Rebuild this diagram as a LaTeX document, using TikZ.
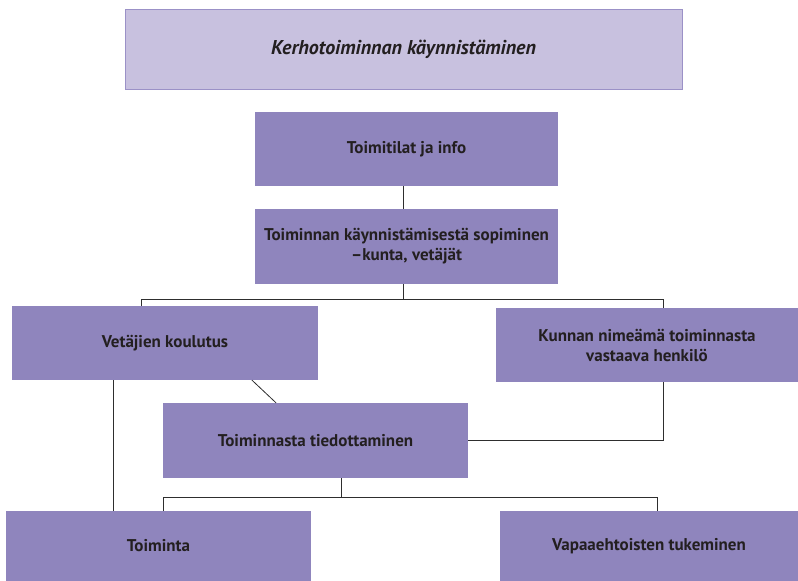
\documentclass[tikz,border=0pt]{standalone}
\usepackage{fontspec}
\setmainfont{PT Sans}
\usepackage{xcolor}
\usepackage{tikz}

\definecolor{boxfill}{HTML}{8F85BD}
\definecolor{titlefill}{HTML}{C8C1DF}
\definecolor{titleline}{HTML}{9B91C7}
\definecolor{textcol}{HTML}{231F20}
\definecolor{linecol}{HTML}{2E2E2E}

\begin{document}
\begin{tikzpicture}[x=1pt, y=-1pt,
  box/.style={fill=boxfill, text=textcol, font=\fontsize{17}{20}\selectfont\bfseries,
    align=center, inner sep=0pt},
  link/.style={draw=linecol, line width=0.8pt}]

\useasboundingbox (0,0) rectangle (798,581);

% Titolo
\node[fill=titlefill, draw=titleline, line width=1pt, minimum width=557pt, minimum height=80pt,
  text=textcol, font=\fontsize{20}{24}\selectfont\bfseries\itshape] (title) at (403.5,49)
  {Kerhotoiminnan käynnistäminen};

% Blocchi centrali
\node[box, minimum width=303pt, minimum height=74pt] (info) at (406.5,149) {Toimitilat ja info};
\node[box, minimum width=303pt, minimum height=75pt] (sopim) at (406.5,246.5)
  {Toiminnan käynnistämisestä sopiminen\\–kunta, vetäjät};

% Blocchi laterali
\node[box, minimum width=306pt, minimum height=74pt] (koul) at (165,343) {Vetäjien koulutus};
\node[box, minimum width=302pt, minimum height=74pt] (kunta) at (647,345)
  {Kunnan nimeämä toiminnasta\\vastaava henkilö};
\node[box, minimum width=305pt, minimum height=75pt] (tied) at (315.5,440.5) {Toiminnasta tiedottaminen};

% Blocchi in basso
\node[box, minimum width=305pt, minimum height=70pt] (toim) at (158.5,546) {Toiminta};
\node[box, minimum width=298pt, minimum height=70pt] (vapaa) at (649,546) {Vapaaehtoisten tukeminen};

% Punti di appoggio delle linee
\coordinate (mc) at (403,0);
\coordinate (tc) at (341,0);
\coordinate (bl) at (141,299);
\coordinate (br) at (663,299);
\coordinate (dl) at (163,497);
\coordinate (dr) at (657,497);
\coordinate (ka) at (252,0);
\coordinate (kb) at (276,0);
\coordinate (kc) at (113,0);

% Collegamenti
\draw[link] (info.south -| mc) -- (sopim.north -| mc);
\draw[link] (sopim.south -| mc) -- (mc |- bl);
\draw[link] (bl |- koul.north) -- (bl) -- (br) -- (br |- kunta.north);
\draw[link] (koul.south -| ka) -- (tied.north -| kb);
\draw[link] (koul.south -| kc) -- (toim.north -| kc);
\draw[link] (kunta.south -| br) |- (tied.east);
\draw[link] (tied.south -| tc) -- (tc |- dl);
\draw[link] (dl |- toim.north) -- (dl) -- (dr) -- (dr |- vapaa.north);

\end{tikzpicture}
\end{document}
